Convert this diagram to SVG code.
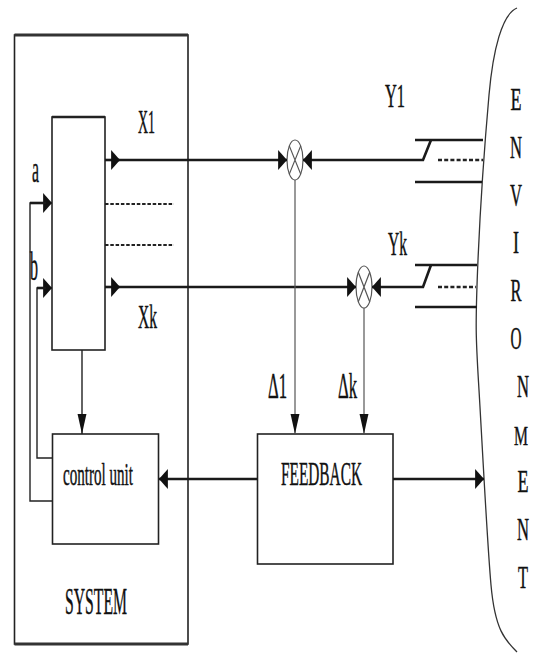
<svg xmlns="http://www.w3.org/2000/svg" width="540" height="656" viewBox="0 0 540 656">
<style>
.t{font-family:"Liberation Serif","Times New Roman","DejaVu Serif",serif;fill:#111;stroke:#111;stroke-width:0.45}
.box{fill:none;stroke:#222;stroke-width:1.6}
.thick{stroke:#1a1a1a;stroke-width:2.6;fill:none}
.thin{stroke:#555;stroke-width:1.2;fill:none}
.mid{stroke:#222;stroke-width:1.4;fill:none}
.dash{stroke:#222;stroke-width:2.2;fill:none;stroke-dasharray:3.5 1.8}
.cdash{stroke:#222;stroke-width:2.4;fill:none;stroke-dasharray:4 2.2}
</style>
<defs>
<marker id="ah" markerUnits="userSpaceOnUse" markerWidth="10" markerHeight="20" viewBox="0 0 8 18" refX="8" refY="9" orient="auto"><path d="M0,0 L8,9 L0,18 Z" fill="#111"/></marker>
<marker id="av" markerUnits="userSpaceOnUse" markerWidth="20" markerHeight="10" viewBox="0 0 18 8" refX="18" refY="4" orient="auto"><path d="M0,0 L18,4 L0,8 Z" fill="#111"/></marker>
</defs>

<g id="system">
<rect x="14.5" y="35" width="173.5" height="609" class="box"/>
<line x1="14.5" y1="35" x2="188" y2="35" stroke="#333" stroke-width="3"/>
<line x1="14.5" y1="644" x2="188" y2="644" stroke="#333" stroke-width="3"/>
<text class="t" x="65" y="614" font-size="38" textLength="62" lengthAdjust="spacingAndGlyphs">SYSTEM</text>
</g>

<g id="processor">
<rect x="52" y="117" width="53" height="233" class="box" stroke-width="1.3"/>
<line x1="52" y1="117" x2="105" y2="117" stroke="#222" stroke-width="2.6"/>
</g>

<g id="control-unit">
<rect x="52.5" y="434" width="106" height="110" class="box" stroke-width="2"/>
<text class="t" x="63" y="485" font-size="32" textLength="70" lengthAdjust="spacingAndGlyphs">control unit</text>
</g>

<g id="feedback">
<rect x="257.5" y="434" width="135.5" height="130" class="box" stroke-width="2"/>
<text class="t" x="281" y="485" font-size="33" textLength="81" lengthAdjust="spacingAndGlyphs">FEEDBACK</text>
</g>

<g id="sum1">
<ellipse cx="295" cy="160" rx="8" ry="20" fill="#fff" stroke="#555" stroke-width="1.2"/>
<path d="M289.3,145.9 L300.7,174.1 M300.7,145.9 L289.3,174.1" class="thin"/>
</g>

<g id="sum2">
<ellipse cx="364" cy="287" rx="8" ry="21" fill="#fff" stroke="#555" stroke-width="1.2"/>
<path d="M358.3,272.2 L369.7,301.8 M369.7,272.2 L358.3,301.8" class="thin"/>
</g>

<g id="environment">
<path d="M517,8 C502,14 493,50 489,95 S481,190 478,260 S476,340 479,390 S487,540 491,585 S505,640 517,652" stroke="#333" stroke-width="1.3" fill="none"/>
<g class="t" font-size="31" text-anchor="middle">
<text x="516" y="110" textLength="11" lengthAdjust="spacingAndGlyphs">E</text>
<text x="516" y="158" textLength="12" lengthAdjust="spacingAndGlyphs">N</text>
<text x="516" y="206" textLength="12" lengthAdjust="spacingAndGlyphs">V</text>
<text x="516" y="253" textLength="6" lengthAdjust="spacingAndGlyphs">I</text>
<text x="516" y="301" textLength="11" lengthAdjust="spacingAndGlyphs">R</text>
<text x="516" y="349" textLength="11" lengthAdjust="spacingAndGlyphs">O</text>
<text x="523" y="397" textLength="12" lengthAdjust="spacingAndGlyphs">N</text>
<text x="521" y="445" font-size="28" textLength="14" lengthAdjust="spacingAndGlyphs">M</text>
<text x="523" y="492" textLength="11" lengthAdjust="spacingAndGlyphs">E</text>
<text x="523" y="540" textLength="12" lengthAdjust="spacingAndGlyphs">N</text>
<text x="523" y="588" textLength="10" lengthAdjust="spacingAndGlyphs">T</text>
</g>
</g>

<g id="connectors">
<line x1="105" y1="160" x2="120" y2="160" class="thick" marker-end="url(#ah)"/>
<line x1="120" y1="160" x2="287" y2="160" class="thick" marker-end="url(#ah)"/>
<line x1="105" y1="287" x2="120" y2="287" class="thick" marker-end="url(#ah)"/>
<line x1="120" y1="287" x2="356" y2="287" class="thick" marker-end="url(#ah)"/>
<line x1="105" y1="204" x2="174" y2="204" class="dash"/>
<line x1="105" y1="245" x2="174" y2="245" class="dash"/>
<line x1="415" y1="140" x2="483" y2="140" class="thick"/>
<line x1="415" y1="182" x2="482" y2="182" class="thick"/>
<polyline points="431,140 423,160 303,160" class="thick" marker-end="url(#ah)"/>
<line x1="438" y1="160" x2="483" y2="160" class="cdash"/>
<line x1="415" y1="265" x2="477" y2="265" class="thick"/>
<line x1="415" y1="307" x2="477" y2="307" class="thick"/>
<polyline points="431,265 423,287 372,287" class="thick" marker-end="url(#ah)"/>
<line x1="438" y1="287" x2="476" y2="287" class="cdash"/>
<line x1="295" y1="180" x2="295" y2="434" class="thin" marker-end="url(#av)"/>
<line x1="364" y1="308" x2="364" y2="434" class="thin" marker-end="url(#av)"/>
<polyline points="52,501 30,501 30,203 52,203" class="mid" stroke-width="1.6" marker-end="url(#ah)"/>
<polyline points="52,458 37,458 37,288 52,288" class="mid" stroke-width="1.6" marker-end="url(#ah)"/>
<line x1="30" y1="203" x2="46" y2="203" class="thick"/>
<line x1="37" y1="288" x2="46" y2="288" class="thick"/>
<line x1="82" y1="350" x2="82" y2="434" class="mid" marker-end="url(#av)"/>
<line x1="257.5" y1="479" x2="159" y2="479" class="thick" marker-end="url(#ah)"/>
<line x1="393" y1="479" x2="484" y2="479" class="thick" marker-end="url(#ah)"/>
</g>

<g id="labels">
<text class="t" x="138" y="133" font-size="33" textLength="17" lengthAdjust="spacingAndGlyphs">X1</text>
<text class="t" x="138" y="328" font-size="34" textLength="19" lengthAdjust="spacingAndGlyphs">Xk</text>
<text class="t" x="32" y="182" font-size="38" textLength="7" lengthAdjust="spacingAndGlyphs">a</text>
<text class="t" x="30" y="280" font-size="40" textLength="8" lengthAdjust="spacingAndGlyphs">b</text>
<text class="t" x="385" y="107" font-size="33" textLength="20" lengthAdjust="spacingAndGlyphs">Y1</text>
<text class="t" x="388" y="255" font-size="34" textLength="19" lengthAdjust="spacingAndGlyphs">Yk</text>
<text class="t" x="268" y="398" font-size="36" textLength="19" lengthAdjust="spacingAndGlyphs">Δ1</text>
<text class="t" x="338" y="398" font-size="36" textLength="19" lengthAdjust="spacingAndGlyphs">Δk</text>
</g>
</svg>
